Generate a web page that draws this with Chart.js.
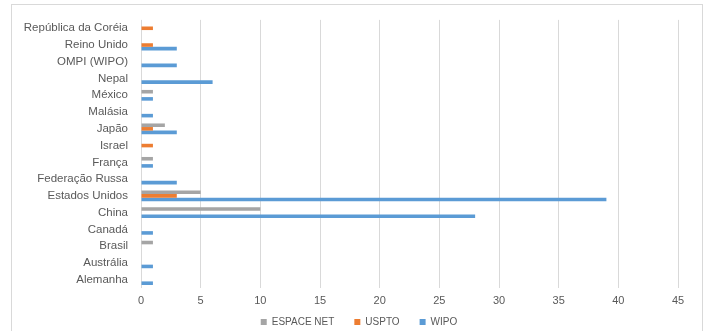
<!DOCTYPE html>
<html>
<head>
<meta charset="utf-8">
<script src="https://cdn.jsdelivr.net/npm/chart.js@4.4.1/dist/chart.umd.min.js"></script>
<style>
html,body{margin:0;padding:0;background:#fff;}
#wrap{position:relative;width:708px;height:331px;overflow:hidden;}
#frame{position:absolute;left:11px;top:4px;width:690px;height:340px;border:1px solid #d9d9d9;pointer-events:none;}
</style>
</head>
<body>
<div id="wrap">
<div id="frame"></div>
<canvas id="chart" width="708" height="331"></canvas>
</div>
<script>
// countries, top to bottom
const countries=['República da Coréia','Reino Unido','OMPI (WIPO)','Nepal','México','Malásia','Japão','Israel','França','Federação Russa','Estados Unidos','China','Canadá','Brasil','Austrália','Alemanha'];
const espacenet=[0,0,0,0,1,0,2,0,1,0,5,10,0,1,0,0];
const uspto=[1,1,0,0,0,0,1,1,0,0,3,0,0,0,0,0];
const wipo=[0,3,3,6,1,1,3,0,1,3,39,28,1,0,1,1];
const xTicks=[0,5,10,15,20,25,30,35,40,45];

const grey='#595959';
const font='"Liberation Sans", Arial, sans-serif';

// keep the legend compact, pull it up a little and nudge it right
const legendFit={
id:'legendFit',
beforeLayout(chart){
const lg=chart.legend;
if(lg && !lg._fitPatched){
const fit=lg.fit.bind(lg);
lg.fit=function(){fit();this.height=23;};
lg._fitPatched=true;
}
},
afterLayout(chart){
const lg=chart.legend;
lg.left+=14; lg.right+=14;
lg.top-=9; lg.bottom=chart.height;
}
};

const ctx=document.getElementById('chart');

const chart=new Chart(ctx,{
type:'bar',
data:{labels:countries,datasets:[
{label:'ESPACE NET',data:espacenet,backgroundColor:'#a5a5a5'},
{label:'USPTO',data:uspto,backgroundColor:'#ed7d31'},
{label:'WIPO',data:wipo,backgroundColor:'#5b9bd5'}
]},
options:{
indexAxis:'y',
responsive:false,
animation:false,
maintainAspectRatio:false,
categoryPercentage:0.64,
barPercentage:1,
layout:{padding:{left:12,top:10,right:30,bottom:2}},
plugins:{
tooltip:{enabled:false},
legend:{
position:'bottom',
labels:{boxWidth:6,boxHeight:6,padding:20,color:grey,font:{family:font,size:10}}
}
},
scales:{
x:{
min:0,max:45,
afterBuildTicks:s=>{s.ticks=xTicks.map(v=>({value:v}));},
afterFit:s=>{s.height=18;},
grid:{color:'#d9d9d9',drawTicks:false},
border:{display:false},
ticks:{padding:6,color:grey,font:{family:font,size:11}}
},
y:{
afterFit:s=>{s.width=129;},
grid:{display:false,drawTicks:false},
border:{display:false},
ticks:{padding:13,autoSkip:false,color:grey,font:{family:font,size:11.5}}
}
}
},
plugins:[legendFit]
});
</script>
</body>
</html>
